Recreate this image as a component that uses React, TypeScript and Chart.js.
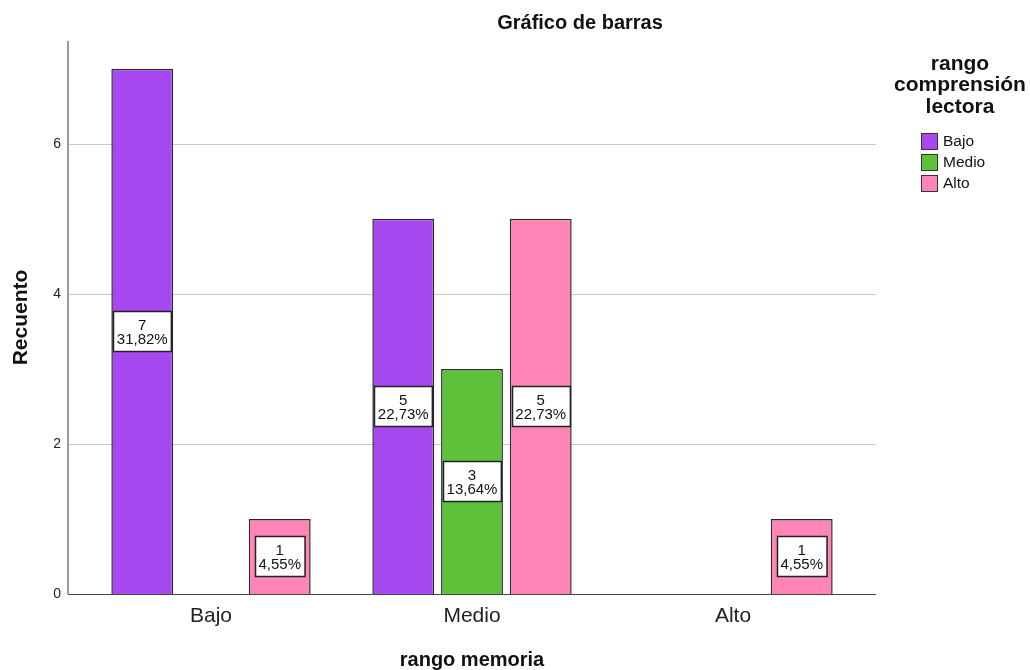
import React, { useEffect, useRef } from "react";
import { Chart, registerables } from "chart.js";

Chart.register(...registerables);

const categories = ["Bajo", "Medio", "Alto"];
const seriesNames = ["Bajo", "Medio", "Alto"];
const bajoValues = [7, 5, null];
const medioValues = [null, 3, null];
const altoValues = [1, 5, 1];
const bajoPercents = ["31,82%", "22,73%", ""];
const medioPercents = ["", "13,64%", ""];
const altoPercents = ["4,55%", "22,73%", "4,55%"];
const yTicks = [0, 2, 4, 6];
const colors = ["#A748F0", "#5EC13A", "#FF85B6"];

const FONT = "'Liberation Sans', Arial, sans-serif";

const decorPlugin = {
  id: "decor",
  beforeDatasetsDraw(chart: any) {
    const { ctx, chartArea, scales } = chart;
    const left = chartArea.left - 12.5;
    const right = chartArea.right + 12.5;
    ctx.save();
    ctx.strokeStyle = "#c8c8c8";
    ctx.lineWidth = 1;
    for (const t of yTicks) {
      if (t === 0) continue;
      const y = Math.round(scales.y.getPixelForValue(t)) + 0.5;
      ctx.beginPath();
      ctx.moveTo(left, y);
      ctx.lineTo(right, y);
      ctx.stroke();
    }
    ctx.restore();
  },
  afterDatasetsDraw(chart: any) {
    const { ctx, chartArea, scales } = chart;
    const left = chartArea.left - 12.5;
    const right = chartArea.right + 12.5;
    const percents = [bajoPercents, medioPercents, altoPercents];
    ctx.save();
    // axes
    ctx.strokeStyle = "#9a9a9a";
    ctx.lineWidth = 2;
    ctx.beginPath();
    ctx.moveTo(left, chartArea.top);
    ctx.lineTo(left, chartArea.bottom);
    ctx.stroke();
    ctx.strokeStyle = "#444";
    ctx.lineWidth = 1;
    ctx.beginPath();
    ctx.moveTo(left, chartArea.bottom + 0.5);
    ctx.lineTo(right, chartArea.bottom + 0.5);
    ctx.stroke();

    // data labels
    ctx.font = `15px ${FONT}`;
    ctx.textAlign = "center";
    ctx.textBaseline = "middle";
    chart.data.datasets.forEach((ds: any, di: number) => {
      const meta = chart.getDatasetMeta(di);
      meta.data.forEach((bar: any, i: number) => {
        const v = ds.data[i];
        if (v === null || v === undefined) return;
        const pct = percents[di][i];
        const cx = bar.x;
        const cy = scales.y.getPixelForValue(v / 2);
        const w = Math.max(ctx.measureText(pct).width, ctx.measureText(String(v)).width) + 7;
        const h = 40;
        const bx = Math.round(cx - w / 2) + 0.5;
        const by = Math.round(cy - h / 2) + 0.5;
        ctx.fillStyle = "#ffffff";
        ctx.fillRect(bx, by, w, h);
        ctx.strokeStyle = "#222";
        ctx.lineWidth = 1.5;
        ctx.strokeRect(bx, by, w, h);
        ctx.fillStyle = "#111";
        ctx.fillText(String(v), cx, cy - 6);
        ctx.fillText(pct, cx, cy + 8);
      });
    });
    ctx.restore();
  },
  afterDraw(chart: any) {
    const { ctx } = chart;
    ctx.save();
    ctx.fillStyle = "#111";
    ctx.textAlign = "center";
    ctx.textBaseline = "middle";
    ctx.font = `bold 20px ${FONT}`;
    ctx.fillText("Gráfico de barras", 580, 23);

    // legend
    ctx.font = `bold 21px ${FONT}`;
    const titleLines = ["rango", "comprensión", "lectora"];
    titleLines.forEach((t, i) => ctx.fillText(t, 960, 64 + i * 21.5));
    ctx.font = `15.5px ${FONT}`;
    ctx.textAlign = "left";
    seriesNames.forEach((name, i) => {
      const y = 133 + i * 21;
      ctx.fillStyle = colors[i];
      ctx.fillRect(921.5, y + 0.5, 16, 16);
      ctx.strokeStyle = "#333";
      ctx.lineWidth = 1;
      ctx.strokeRect(921.5, y + 0.5, 16, 16);
      ctx.fillStyle = "#111";
      ctx.fillText(name, 943, y + 9);
    });
    ctx.restore();
  },
};

export default function App() {
  const ref = useRef<HTMLCanvasElement | null>(null);
  useEffect(() => {
    if (!ref.current) return;
    const mk = (label: string, data: any[], color: string) => ({
      label,
      data,
      backgroundColor: color,
      borderColor: "#2a2a2a",
      borderWidth: 1.5,
      categoryPercentage: 0.79,
      barPercentage: 0.9,
    });
    const chart = new Chart(ref.current, {
      type: "bar",
      data: {
        labels: categories,
        datasets: [
          mk(seriesNames[0], bajoValues, colors[0]),
          mk(seriesNames[1], medioValues, colors[1]),
          mk(seriesNames[2], altoValues, colors[2]),
        ],
      },
      options: {
        responsive: false,
        animation: false,
        layout: { padding: { left: 0, right: 166.5, top: 41, bottom: 0 } },
        plugins: {
          legend: { display: false },
          title: { display: false },
          tooltip: { enabled: false },
        },
        scales: {
          x: {
            grid: { display: false, drawTicks: false },
            border: { display: false },
            ticks: { color: "#222", font: { family: FONT, size: 21 }, padding: 10 },
            title: {
              display: true,
              text: "rango memoria",
              color: "#111",
              font: { family: FONT, size: 20, weight: "bold", lineHeight: 1.0 },
              padding: { top: 0, bottom: 0 },
            },
            afterFit(scale: any) {
              scale.height = 76;
            },
          },
          y: {
            min: 0,
            max: 7.37,
            grid: { display: false, drawTicks: false },
            border: { display: false },
            ticks: { color: "#222", font: { family: FONT, size: 14 }, padding: 19.5, stepSize: 2 },
            afterBuildTicks(scale: any) {
              scale.ticks = yTicks.map((v) => ({ value: v }));
            },
            title: {
              display: true,
              text: "Recuento",
              color: "#111",
              font: { family: FONT, size: 21, weight: "bold" },
              padding: { top: 9, bottom: 0 },
            },
            afterFit(scale: any) {
              scale.width = 80.5;
            },
          },
        },
      },
      plugins: [decorPlugin],
    } as any);
    return () => chart.destroy();
  }, []);
  return (
    <div style={{ position: "fixed", left: 0, top: 0, width: 1030, height: 670, background: "#fff" }}>
      <canvas ref={ref} width={1030} height={670} style={{ display: "block" }} />
    </div>
  );
}
